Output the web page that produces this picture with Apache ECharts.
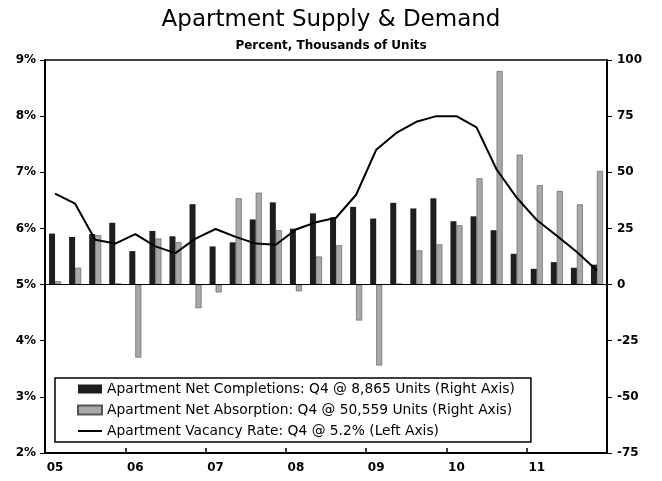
<!DOCTYPE html>
<html>
<head>
<meta charset="utf-8">
<script src="https://cdn.jsdelivr.net/npm/echarts@6/dist/echarts.min.js"></script>
<style>
html,body{margin:0;padding:0;background:#fff;}
#chart{width:662px;height:481px;}
</style>
</head>
<body>
<div id="chart"></div>
<script>
// Tick labels (years) and quarterly categories
const years = ['05','06','07','08','09','10','11'];
const quarters = ['Q1','Q2','Q3','Q4'];
const categories = years.flatMap(y => quarters.map(q => y + ' ' + q));

// Apartment Net Completions, thousands of units (right axis)
const completions = [22.7, 21.2, 22.5, 27.5, 14.9, 23.9, 21.5, 35.8,
                     17.0, 18.8, 29.0, 36.6, 24.9, 31.7, 29.9, 34.6,
                     29.4, 36.4, 33.9, 38.4, 28.2, 30.4, 24.2, 13.7,
                     7.0, 10.0, 7.5, 8.865];
// Apartment Net Absorption, thousands of units (right axis)
const absorption = [1.5, 7.5, 22.0, 0.5, -32.5, 20.5, 18.9, -10.5,
                    -3.5, 38.4, 40.9, 24.2, -3.0, 12.5, 17.5, -16.0,
                    -36.0, 0.5, 15.2, 17.9, 26.4, 47.3, 95.1, 57.8,
                    44.3, 41.7, 35.7, 50.559];
// Apartment Vacancy Rate, percent (left axis)
const vacancy = [6.62, 6.44, 5.80, 5.73, 5.90, 5.68, 5.56, 5.82,
                 5.99, 5.85, 5.73, 5.71, 5.98, 6.11, 6.19, 6.60,
                 7.40, 7.70, 7.90, 8.00, 8.00, 7.80, 7.05, 6.55,
                 6.15, 5.87, 5.58, 5.25];

const seriesNames = [
  'Apartment Net Completions: Q4 @ 8,865 Units (Right Axis)',
  'Apartment Net Absorption: Q4 @ 50,559 Units (Right Axis)',
  'Apartment Vacancy Rate: Q4 @ 5.2% (Left Axis)'
];

const FONT = 'DejaVu Sans';
const chart = echarts.init(document.getElementById('chart'), null, {renderer: 'canvas'});
chart.setOption({
  animation: false,
  backgroundColor: '#fff',
  textStyle: {fontFamily: FONT, color: '#000'},
  title: [
    {text: 'Apartment Supply & Demand', left: 'center', top: 4,
     textStyle: {fontFamily: FONT, fontSize: 23, fontWeight: 'normal', color: '#000'}},
    {text: 'Percent, Thousands of Units', left: 'center', top: 35,
     textStyle: {fontFamily: FONT, fontSize: 12, fontWeight: 'bold', color: '#000'}}
  ],
  legend: {
    orient: 'vertical',
    left: 55, top: 378,
    padding: [4, 16, 4, 22],
    itemGap: 7,
    itemWidth: 24, itemHeight: 9,
    backgroundColor: '#fff',
    borderColor: '#000', borderWidth: 1.5,
    textStyle: {fontFamily: FONT, fontSize: 13.8, color: '#000'},
    data: [
      {name: seriesNames[0], icon: 'rect'},
      {name: seriesNames[1], icon: 'rect'},
      {name: seriesNames[2], itemStyle: {opacity: 0}}
    ]
  },
  grid: {left: 45, right: 55, top: 60, bottom: 28, show: true,
         borderColor: '#000', borderWidth: 1.5, backgroundColor: 'transparent'},
  xAxis: {
    type: 'category',
    data: categories,
    boundaryGap: true,
    position: 'bottom',
    axisLine: {onZero: false, lineStyle: {color: '#000', width: 2}},
    axisTick: {show: true, inside: true, length: 5,
               interval: (i) => i % 4 === 0, lineStyle: {color: '#000', width: 1.5}},
    axisLabel: {interval: (i) => i % 4 === 0, formatter: (v) => v.slice(0, 2),
                fontFamily: FONT, fontSize: 12, fontWeight: 'bold', color: '#000', margin: 9},
    splitLine: {show: false}
  },
  yAxis: [
    {type: 'value', min: 2, max: 9, interval: 1, position: 'left',
     axisLine: {show: true, lineStyle: {color: '#000', width: 2}},
     axisTick: {show: true, length: 5, lineStyle: {color: '#000'}},
     axisLabel: {formatter: '{value}%', fontFamily: FONT, fontSize: 12, fontWeight: 'bold',
                 color: '#000', margin: 9},
     splitLine: {show: false}},
    {type: 'value', min: -75, max: 100, interval: 25, position: 'right',
     axisLine: {show: true, lineStyle: {color: '#000', width: 2}},
     axisTick: {show: true, length: 5, lineStyle: {color: '#000'}},
     axisLabel: {fontFamily: FONT, fontSize: 12, fontWeight: 'bold', color: '#000', margin: 10},
     splitLine: {show: false}}
  ],
  series: [
    {name: seriesNames[0], type: 'bar', yAxisIndex: 1, data: completions,
     barWidth: 6, barGap: '0%',
     itemStyle: {color: '#1e1e1e'},
     markLine: {silent: true, symbol: 'none', label: {show: false},
                lineStyle: {color: '#000', width: 1, type: 'solid'},
                data: [{yAxis: 0}]}},
    {name: seriesNames[1], type: 'bar', yAxisIndex: 1, data: absorption,
     barWidth: 6, barGap: '0%',
     itemStyle: {color: '#a8a8a8', borderColor: '#555', borderWidth: 0.6}},
    {name: seriesNames[2], type: 'line', yAxisIndex: 0, data: vacancy,
     symbol: 'none', smooth: false, z: 5,
     lineStyle: {color: '#000', width: 2}, itemStyle: {color: '#000'}}
  ]
});
</script>
</body>
</html>
